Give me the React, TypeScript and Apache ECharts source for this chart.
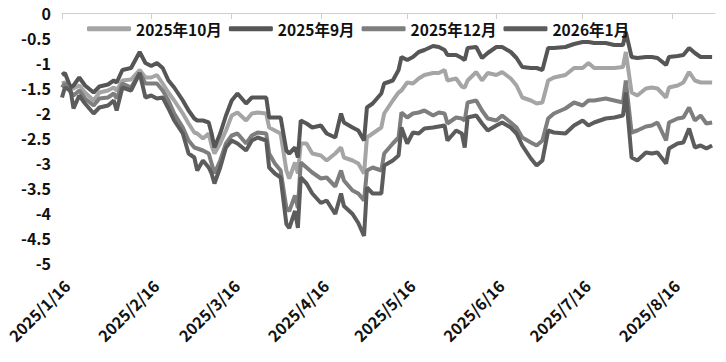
import React, { useEffect, useRef } from "react";
import * as echarts from "echarts";

const tickLabels = ["2025/1/16", "2025/2/16", "2025/3/16", "2025/4/16", "2025/5/16", "2025/6/16", "2025/7/16", "2025/8/16"];
const yTicks = [0, -0.5, -1, -1.5, -2, -2.5, -3, -3.5, -4, -4.5, -5];
const seriesNames = ["2025年10月", "2025年9月", "2025年12月", "2026年1月"];

const dates = [
  "2025/1/16", "2025/1/17", "2025/1/19", "2025/1/20", "2025/1/22", "2025/1/24", "2025/1/27", "2025/1/29",
  "2025/2/1", "2025/2/3", "2025/2/4", "2025/2/6", "2025/2/9", "2025/2/12", "2025/2/14", "2025/2/16", "2025/2/18", "2025/2/20", "2025/2/22", "2025/2/24", "2025/2/27",
  "2025/3/1", "2025/3/3", "2025/3/4", "2025/3/6", "2025/3/8", "2025/3/9", "2025/3/10", "2025/3/12", "2025/3/14", "2025/3/16", "2025/3/18", "2025/3/21", "2025/3/23", "2025/3/25", "2025/3/28", "2025/3/29", "2025/3/31",
  "2025/4/2", "2025/4/4", "2025/4/5", "2025/4/7", "2025/4/8", "2025/4/9", "2025/4/11", "2025/4/13", "2025/4/16", "2025/4/18", "2025/4/21", "2025/4/23", "2025/4/24", "2025/4/27", "2025/4/29",
  "2025/5/1", "2025/5/2", "2025/5/4", "2025/5/7", "2025/5/8", "2025/5/11", "2025/5/13", "2025/5/14", "2025/5/16", "2025/5/18", "2025/5/20", "2025/5/22", "2025/5/25", "2025/5/27", "2025/5/29", "2025/5/30",
  "2025/6/2", "2025/6/4", "2025/6/5", "2025/6/6", "2025/6/9", "2025/6/11", "2025/6/13", "2025/6/16", "2025/6/18", "2025/6/21", "2025/6/23", "2025/6/25", "2025/6/28", "2025/6/30",
  "2025/7/2", "2025/7/4", "2025/7/6", "2025/7/10", "2025/7/13", "2025/7/16", "2025/7/18", "2025/7/20", "2025/7/24", "2025/7/27", "2025/7/30", "2025/7/31",
  "2025/8/2", "2025/8/4", "2025/8/7", "2025/8/9", "2025/8/11", "2025/8/14", "2025/8/15", "2025/8/18", "2025/8/20", "2025/8/22", "2025/8/24", "2025/8/26", "2025/8/28", "2025/8/30",
];

const sep2025 = [
  -1.24, -1.2, -1.49, -1.45, -1.29, -1.45, -1.59, -1.47,
  -1.43, -1.35, -1.39, -1.14, -1.1, -0.78, -1.0, -1.06, -1.0, -1.1, -1.35, -1.49, -1.75,
  -1.95, -2.11, -2.15, -2.15, -2.19, -2.41, -2.69, -2.41, -2.05, -1.75, -1.61, -1.81, -1.69, -1.69, -1.69, -2.09, -2.09,
  -2.09, -2.75, -2.81, -2.69, -2.89, -2.15, -2.21, -2.29, -2.25, -2.41, -2.49, -2.01, -2.19, -2.29, -2.35,
  -2.55, -1.89, -1.81, -1.61, -1.41, -1.35, -1.14, -0.88, -0.94, -0.88, -0.78, -0.74, -0.66, -0.68, -0.74, -0.84,
  -0.84, -0.9, -0.94, -0.7, -0.68, -0.9, -0.8, -0.68, -0.68, -0.78, -0.9, -1.08, -1.1, -1.1,
  -1.14, -0.7, -0.7, -0.68, -0.62, -0.58, -0.58, -0.6, -0.6, -0.64, -0.64, -0.38,
  -0.88, -0.9, -0.88, -0.88, -0.9, -1.04, -0.88, -0.86, -0.84, -0.7, -0.8, -0.88, -0.88, -0.88,
];

const oct2025 = [
  -1.41, -1.39, -1.51, -1.51, -1.45, -1.59, -1.75, -1.59,
  -1.55, -1.49, -1.55, -1.35, -1.33, -1.14, -1.29, -1.29, -1.24, -1.41, -1.59, -1.75, -2.01,
  -2.21, -2.39, -2.41, -2.51, -2.41, -2.65, -2.81, -2.61, -2.35, -2.05, -1.99, -2.15, -2.01, -1.99, -2.01, -2.29, -2.35,
  -2.41, -3.15, -3.31, -2.99, -3.21, -2.61, -2.61, -2.81, -2.85, -2.95, -2.81, -2.69, -2.89, -2.95, -3.01,
  -3.21, -2.49, -2.41, -2.29, -2.01, -1.75, -1.59, -1.55, -1.39, -1.41, -1.31, -1.24, -1.2, -1.2, -1.14, -1.35,
  -1.31, -1.47, -1.49, -1.35, -1.18, -1.35, -1.2, -1.24, -1.18, -1.31, -1.45, -1.69, -1.75, -1.81,
  -1.79, -1.35, -1.29, -1.24, -1.1, -1.1, -1.0, -1.1, -1.1, -1.1, -1.08, -0.78,
  -1.59, -1.65, -1.51, -1.49, -1.51, -1.69, -1.49, -1.45, -1.39, -1.18, -1.35, -1.39, -1.39, -1.39,
];

const dec2025 = [
  -1.49, -1.41, -1.59, -1.65, -1.55, -1.71, -1.85, -1.71,
  -1.69, -1.61, -1.71, -1.41, -1.49, -1.2, -1.41, -1.41, -1.41, -1.55, -1.75, -2.01, -2.29,
  -2.55, -2.69, -2.71, -2.75, -2.81, -3.01, -3.21, -2.95, -2.61, -2.45, -2.41, -2.61, -2.45, -2.39, -2.41, -2.81, -3.01,
  -3.15, -3.9, -3.96, -3.65, -3.9, -2.99, -3.09, -3.19, -3.31, -3.29, -3.47, -3.15, -3.35, -3.55, -3.61,
  -3.75, -3.15, -3.09, -3.15, -2.81, -2.61, -2.49, -1.99, -2.09, -2.01, -1.99, -1.95, -2.05, -1.99, -2.01, -2.21,
  -2.09, -2.11, -2.15, -1.79, -1.75, -1.95, -2.11, -2.15, -2.05, -2.19, -2.29, -2.49, -2.59, -2.65,
  -2.55, -2.11, -2.01, -1.91, -1.79, -1.85, -1.75, -1.75, -1.71, -1.75, -1.79, -1.35,
  -2.39, -2.35, -2.27, -2.25, -2.19, -2.55, -2.19, -2.11, -2.09, -1.89, -2.15, -2.05, -2.21, -2.19,
];

const jan2026 = [
  -1.69, -1.49, -1.55, -1.91, -1.65, -1.81, -2.01, -1.89,
  -1.85, -1.75, -1.95, -1.49, -1.55, -1.2, -1.69, -1.65, -1.71, -1.69, -1.91, -2.15, -2.41,
  -2.81, -2.89, -3.15, -2.95, -3.09, -3.21, -3.41, -3.09, -2.69, -2.55, -2.61, -2.75, -2.55, -2.49, -2.55, -3.09, -3.21,
  -3.29, -4.22, -4.3, -3.96, -4.3, -3.29, -3.41, -3.61, -3.8, -3.75, -4.02, -3.61, -3.86, -4.02, -4.2,
  -4.46, -3.49, -3.61, -3.61, -3.05, -2.95, -2.85, -2.29, -2.61, -2.39, -2.41, -2.31, -2.29, -2.27, -2.25, -2.55,
  -2.35, -2.41, -2.69, -2.09, -2.05, -2.21, -2.35, -2.25, -2.19, -2.29, -2.41, -2.65, -2.91, -3.05,
  -2.95, -2.35, -2.39, -2.41, -2.25, -2.15, -2.25, -2.19, -2.11, -2.09, -2.05, -1.59,
  -2.89, -2.95, -2.79, -2.81, -2.79, -3.01, -2.71, -2.61, -2.59, -2.31, -2.69, -2.65, -2.71, -2.65,
];

const seriesValues = [oct2025, sep2025, dec2025, jan2026];
const seriesColors = ["#a5a5a5", "#565656", "#7e7e7e", "#5c5c5c"];

function buildCategories(): string[] {
  const out: string[] = [];
  const t = new Date(2025, 0, 16);
  const end = new Date(2025, 7, 31);
  while (t <= end) {
    out.push(`${t.getFullYear()}/${t.getMonth() + 1}/${t.getDate()}`);
    t.setDate(t.getDate() + 1);
  }
  return out;
}

export default function App() {
  const ref = useRef<HTMLDivElement>(null);
  useEffect(() => {
    document.body.style.margin = "0";
    if (!ref.current) return;
    const chart = echarts.init(ref.current, null, { renderer: "svg" });
    const categories = buildCategories();
    const isTick = (_i: number, v: string) => tickLabels.includes(v);
    const font = "'Noto Sans CJK SC', 'Noto Sans', sans-serif";
    chart.setOption({
      animation: false,
      backgroundColor: "#ffffff",
      grid: [
        { left: 62, right: 11, top: 13, bottom: 99 },
        { left: 61, right: 12, top: 13, bottom: 99 },
      ],
      legend: {
        data: seriesNames.map((name, k) => ({ name, icon: "roundRect", itemStyle: { color: seriesColors[k] } })),
        left: 82,
        top: 16,
        itemWidth: 44,
        itemHeight: 5,
        itemGap: 7,
        textStyle: { fontFamily: font, fontSize: 15.5, fontWeight: "bold", color: "#111" },
      },
      xAxis: [
        {
          type: "category",
          gridIndex: 0,
          position: "top",
          data: categories,
          boundaryGap: false,
          axisLine: { show: true, lineStyle: { color: "#cfcfcf", width: 1 } },
          axisTick: { show: true, inside: true, length: 6, interval: isTick, lineStyle: { color: "#cfcfcf" } },
          axisLabel: { show: false },
          splitLine: { show: false },
        },
        {
          type: "category",
          gridIndex: 1,
          position: "bottom",
          data: categories,
          boundaryGap: false,
          axisLine: { show: false },
          axisTick: { show: false },
          axisLabel: {
            show: true,
            interval: isTick,
            rotate: 45,
            margin: 14,
            verticalAlign: "top",
            fontFamily: font,
            fontSize: 16,
            fontWeight: "bold",
            color: "#111",
            formatter: (v: string) => v,
          },
          splitLine: { show: false },
        },
      ],
      yAxis: [
        {
          type: "value",
          gridIndex: 0,
          min: yTicks[yTicks.length - 1],
          max: yTicks[0],
          interval: 0.5,
          axisLine: { show: false },
          axisTick: { show: false },
          splitLine: { show: false },
          axisLabel: {
            margin: 11,
            fontFamily: font,
            fontSize: 16,
            fontWeight: "bold",
            color: "#111",
            formatter: (v: number) => String(v),
          },
        },
        {
          type: "value",
          gridIndex: 1,
          min: -5,
          max: 0,
          show: false,
        },
      ],
      series: seriesNames.map((name, k) => ({
        name,
        type: "line",
        xAxisIndex: 0,
        yAxisIndex: 0,
        showSymbol: false,
        symbol: "none",
        data: dates.map((d, i) => [d, seriesValues[k][i]]),
        lineStyle: { width: 4, color: seriesColors[k] },
        itemStyle: { color: seriesColors[k] },
      })),
    });
    return () => chart.dispose();
  }, []);
  return <div ref={ref} style={{ width: 726, height: 362 }} />;
}
